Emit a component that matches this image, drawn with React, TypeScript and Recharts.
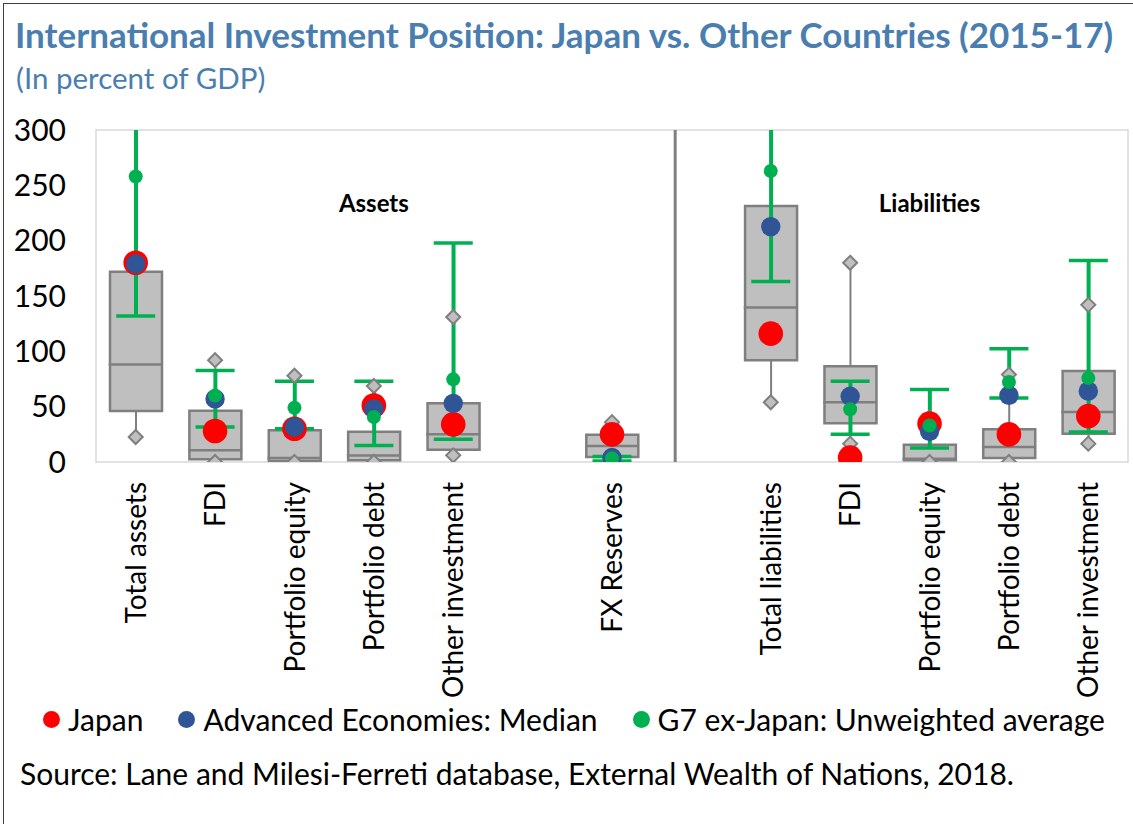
import React from 'react'
import {
  ComposedChart,
  Bar,
  Scatter,
  XAxis,
  YAxis,
  ReferenceLine,
  ReferenceArea,
  ReferenceDot,
} from 'recharts'

// categories (gaps are empty slots on the axis)
const ids = ['ta', 'afdi', 'ape', 'apd', 'aoi', 'gap1', 'fx', 'gap2', 'tl', 'lfdi', 'lpe', 'lpd', 'loi']
const labels = [
  'Total assets', 'FDI', 'Portfolio equity', 'Portfolio debt', 'Other investment', '',
  'FX Reserves', '', 'Total liabilities', 'FDI', 'Portfolio equity', 'Portfolio debt', 'Other investment',
]

// box plot of advanced economies
const whiskerLow = [22.6, 0, 0, 0, 6, null, 0, null, 54, 16.6, 0, 0, 16.6]
const boxLow = [46, 2.4, 1, 1.5, 11, null, 4.5, null, 92, 35, 1.5, 3.6, 25.6]
const boxMedian = [88, 10.6, 3.6, 5.8, 25, null, 14.5, null, 139.5, 54, 3, 13.6, 45.2]
const boxHigh = [172, 46.4, 28.6, 27.4, 53, null, 24.7, null, 231.3, 86.5, 15.7, 29.5, 82.2]
const whiskerHigh = [320, 92, 78, 68.7, 131, null, 36, null, 330, 180, 40, 79, 142]

// markers
const japan = [180, 28, 30, 51, 34, null, 25, null, 116, 4, 34.7, 25, 41.5]
const aeMedian = [179, 57, 31.6, 48, 53, null, 4, null, 212.7, 59.4, 27.7, 60.3, 64]
const g7Avg = [258, 60, 49, 40.7, 74.7, null, 3.3, null, 263, 47.6, 33, 72.3, 76]
const g7Low = [132, 31.7, 30, 14.8, 20.5, null, 1, null, 163, 25, 12.7, 57.9, 27]
const g7High = [380, 82.6, 73, 73, 198, null, 5, null, 380, 73, 65.4, 102.4, 182]

const yTicks = [0, 50, 100, 150, 200, 250, 300]

const data = ids.map((id, i) => ({
  id,
  whisker: whiskerLow[i] == null ? null : [whiskerLow[i], whiskerHigh[i]],
  box: boxLow[i] == null ? null : [boxLow[i], boxHigh[i]],
  median: boxMedian[i],
  wLow: whiskerLow[i],
  wHigh: whiskerHigh[i],
  japan: japan[i],
  ae: aeMedian[i],
  g7: g7Avg[i],
  g7Range: g7Low[i] == null ? null : [g7Low[i], g7High[i]],
  g7Low: g7Low[i],
  g7High: g7High[i],
}))

const FONT = 'Lato, "Open Sans", sans-serif'
const GRAY = '#7f7f7f'
const BOX = '#bfbfbf'
const RED = '#ff0000'
const BLUE = '#2f5597'
const GREEN = '#00b050'
const TITLE = '#4a7eaf'

const XTick = (props: any) => {
  const { x, y, payload } = props
  const i = ids.indexOf(payload.value)
  const text = i >= 0 ? labels[i] : ''
  return (
    <text
      x={x}
      y={y}
      transform={`rotate(-90, ${x}, ${y})`}
      textAnchor="end"
      dy="0.36em"
      fontSize={28}
      fontFamily={FONT}
      fill="#000"
    >
      {text}
    </text>
  )
}

const bad = (cx: any, cy: any) => cx == null || cy == null || isNaN(cy)

const Diamond = (props: any) => {
  const { cx, cy } = props
  if (bad(cx, cy)) return <g />
  const s = 7
  return (
    <polygon
      points={`${cx},${cy - s} ${cx + s},${cy} ${cx},${cy + s} ${cx - s},${cy}`}
      fill={BOX}
      stroke={GRAY}
      strokeWidth={2}
    />
  )
}

const HLine = (half: number, stroke: string, sw: number) => (props: any) => {
  const { cx, cy } = props
  if (bad(cx, cy)) return <g />
  return <line x1={cx - half} x2={cx + half} y1={cy} y2={cy} stroke={stroke} strokeWidth={sw} />
}

const Dot = (r: number, fill: string) => (props: any) => {
  const { cx, cy } = props
  if (bad(cx, cy)) return <g />
  return <circle cx={cx} cy={cy} r={r} fill={fill} />
}

const legendItems = [
  { name: 'Japan', color: RED },
  { name: 'Advanced Economies: Median', color: BLUE },
  { name: 'G7 ex-Japan: Unweighted average', color: GREEN },
]

const sectionLabel = { position: 'center' as const, fontSize: 24, fontWeight: 700, fill: '#000', fontFamily: FONT }

export default function App() {
  return (
    <div
      style={{
        position: 'fixed',
        top: 0,
        left: 0,
        width: 1133,
        height: 824,
        background: '#fff',
        overflow: 'hidden',
        fontFamily: FONT,
      }}
    >
      <div
        style={{
          position: 'absolute',
          left: 3,
          top: 3,
          width: 1200,
          height: 900,
          borderTop: '1.5px solid #404040',
          borderLeft: '1.5px solid #404040',
        }}
      />
      <div style={{ position: 'absolute', left: 15, top: 13, fontSize: 35, fontWeight: 700, color: TITLE, whiteSpace: 'nowrap', lineHeight: '42px' }}>
        International Investment Position: Japan vs. Other Countries (2015-17)
      </div>
      <div style={{ position: 'absolute', left: 16, top: 60, fontSize: 29.5, color: TITLE, whiteSpace: 'nowrap', lineHeight: '36px' }}>
        (In percent of GDP)
      </div>

      <div style={{ position: 'absolute', left: 0, top: 0 }}>
        <ComposedChart
          width={1133}
          height={700}
          data={data}
          margin={{ top: 130, right: 5, left: 16, bottom: 0 }}
        >
          <XAxis
            dataKey="id"
            interval={0}
            axisLine={false}
            tickLine={false}
            tickMargin={14}
            height={238}
            tick={<XTick />}
          />
          <XAxis xAxisId="w" dataKey="id" hide />
          <XAxis xAxisId="g" dataKey="id" hide />
          <XAxis xAxisId="sep" type="number" dataKey="pos" domain={[0, 13]} allowDataOverflow hide />
          <YAxis
            domain={[0, 300]}
            ticks={yTicks}
            allowDataOverflow
            axisLine={false}
            tickLine={false}
            tickMargin={24}
            width={80}
            tick={{ fontSize: 30, fill: '#000', fontFamily: FONT }}
          />
          <ReferenceArea y1={0} y2={300} fill="none" fillOpacity={0} stroke="#d9d9d9" strokeWidth={1.5} />
          <ReferenceLine xAxisId="sep" x={7.296} stroke="#808080" strokeWidth={3} />

          <Bar xAxisId="w" dataKey="whisker" barSize={2} fill={GRAY} isAnimationActive={false} />
          <Bar dataKey="box" barSize={52} fill={BOX} stroke={GRAY} strokeWidth={2.5} isAnimationActive={false} />
          <Bar xAxisId="g" dataKey="g7Range" barSize={4} fill={GREEN} isAnimationActive={false} />
          <Scatter dataKey="median" shape={HLine(27, GRAY, 2.5)} isAnimationActive={false} />
          <Scatter dataKey="g7Low" shape={HLine(19.5, GREEN, 3.5)} isAnimationActive={false} />
          <Scatter dataKey="g7High" shape={HLine(19.5, GREEN, 3.5)} isAnimationActive={false} />

          <Scatter dataKey="wLow" shape={<Diamond />} isAnimationActive={false} />
          <Scatter dataKey="wHigh" shape={<Diamond />} isAnimationActive={false} />
          <Scatter dataKey="japan" shape={Dot(12.3, RED)} isAnimationActive={false} />
          <Scatter dataKey="ae" shape={Dot(9.7, BLUE)} isAnimationActive={false} />
          <Scatter dataKey="g7" shape={Dot(7, GREEN)} isAnimationActive={false} />

          <ReferenceDot x="apd" y={234} r={0} fill="none" stroke="none" label={{ value: 'Assets', ...sectionLabel }} />
          <ReferenceDot x="lpe" y={234} r={0} fill="none" stroke="none" label={{ value: 'Liabilities', ...sectionLabel }} />
        </ComposedChart>
      </div>

      <div style={{ position: 'absolute', left: 43, top: 700, display: 'flex', alignItems: 'center', fontSize: 30, color: '#000', whiteSpace: 'nowrap', lineHeight: '38px' }}>
        {legendItems.map((it, i) => (
          <div key={it.name} style={{ display: 'flex', alignItems: 'center', marginRight: i < 2 ? 35 : 0 }}>
            <span style={{ width: 17, height: 17, borderRadius: '50%', background: it.color, display: 'inline-block', marginRight: 8 }} />
            <span>{it.name}</span>
          </div>
        ))}
      </div>
      <div style={{ position: 'absolute', left: 20, top: 754, fontSize: 30, color: '#000', whiteSpace: 'nowrap', lineHeight: '38px' }}>
        Source: Lane and Milesi-Ferreti database, External Wealth of Nations, 2018.
      </div>
    </div>
  )
}
